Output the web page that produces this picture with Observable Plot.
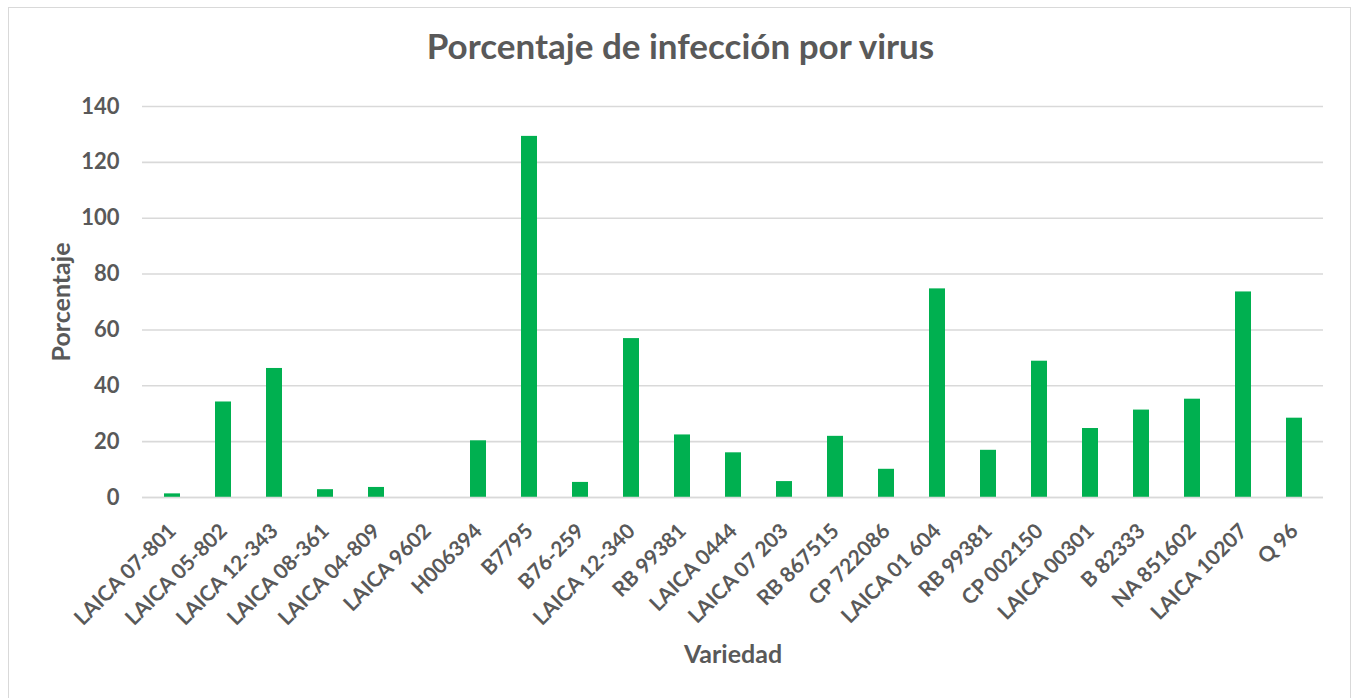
<!DOCTYPE html>
<html>
<head>
<meta charset="utf-8">
<script src="https://cdn.jsdelivr.net/npm/d3@7"></script>
<script src="https://cdn.jsdelivr.net/npm/@observablehq/plot@0.6"></script>
<style>
  html, body { margin: 0; padding: 0; background: #fff; }
  #wrap { position: relative; width: 1353px; height: 698px; overflow: hidden; background: #fff; }
  #frame { position: absolute; left: 8px; top: 7px; width: 1343px; height: 720px; border: 1px solid #d9d9d9; box-sizing: border-box; }
  #title { position: absolute; left: 0; top: 28px; width: 1361px; text-align: center;
           font-family: Lato, sans-serif; font-weight: bold; font-size: 35px; line-height: 1; color: #595959; }
  #chart { position: absolute; left: 0; top: 0; }
</style>
</head>
<body>
<div id="wrap">
  <div id="frame"></div>
  <div id="chart"></div>
  <div id="title">Porcentaje de infección por virus</div>
</div>
<script>
const varieties = [
  "LAICA 07-801", "LAICA 05-802", "LAICA 12-343", "LAICA 08-361", "LAICA 04-809",
  "LAICA 9602", "H006394", "B7795", "B76-259", "LAICA 12-340", "RB 99381",
  "LAICA 0444", "LAICA 07 203", "RB 867515", "CP 722086", "LAICA 01 604",
  "RB 99381", "CP 002150", "LAICA 00301", "B 82333", "NA 851602", "LAICA 10207", "Q 96"
];
const percentages = [
  1.3, 34.2, 46.2, 2.8, 3.6,
  0, 20.3, 129.3, 5.4, 56.9, 22.4,
  16.0, 5.7, 21.9, 10.1, 74.7,
  16.9, 48.8, 24.7, 31.3, 35.2, 73.6, 28.4
];
const yTicks = [0, 20, 40, 60, 80, 100, 120, 140];
const yTitle = "Porcentaje";
const xTitle = "Variedad";

const data = varieties.map((v, i) => ({ i, variety: v, pct: percentages[i] }));

const chart = Plot.plot({
  width: 1353,
  height: 698,
  marginLeft: 142,
  marginRight: 30,
  marginTop: 106,
  marginBottom: 201,
  style: { fontFamily: "Lato, sans-serif", fontWeight: "bold", fontSize: "22px", color: "#595959", background: "transparent" },
  x: { type: "band", domain: d3.range(varieties.length), paddingInner: 0.69, paddingOuter: 0.345, align: 0.5 },
  y: { domain: [0, 140] },
  marks: [
    Plot.gridY(yTicks, { stroke: "#d9d9d9", strokeOpacity: 1, strokeWidth: 1.6 }),
    Plot.barY(data, { x: "i", y: "pct", fill: "#00b050" }),
    Plot.ruleY([0], { stroke: "#d9d9d9", strokeOpacity: 1, strokeWidth: 1.6 }),
    Plot.axisY({ ticks: yTicks, tickSize: 0, tickPadding: 23, label: null, fontSize: 22 }),
    Plot.axisX({ tickSize: 0, tickPadding: 30, tickRotate: -45, label: null, fontSize: 21,
                 tickFormat: i => varieties[i] }),
    Plot.text([yTitle], { text: d => d, frameAnchor: "left", textAnchor: "middle", lineAnchor: "middle",
                          dx: -81, rotate: -90, fontSize: 25, fill: "#595959" }),
    Plot.text([xTitle], { text: d => d, frameAnchor: "bottom", textAnchor: "middle", lineAnchor: "middle",
                          dy: 157, fontSize: 25, fill: "#595959" })
  ]
});
document.getElementById("chart").appendChild(chart);
</script>
</body>
</html>
